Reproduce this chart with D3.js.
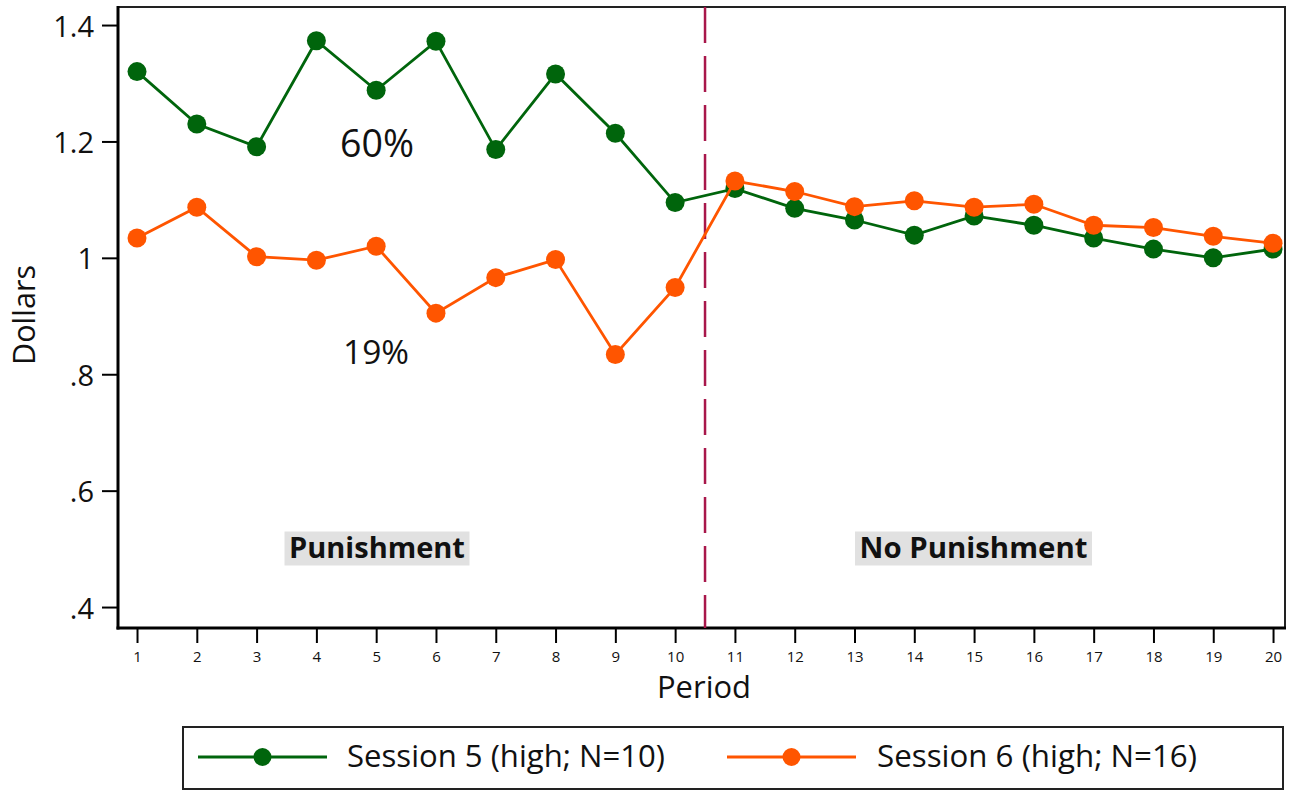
<!DOCTYPE html>
<html><head><meta charset="utf-8">
<script src="https://cdn.jsdelivr.net/npm/d3@7"></script>
<style>html,body{margin:0;padding:0;background:#fff;} svg{display:block;font-family:"Open Sans",sans-serif;}</style>
</head><body>
<svg id="c" width="1299" height="790"></svg>
<script>
const periods = [1,2,3,4,5,6,7,8,9,10,11,12,13,14,15,16,17,18,19,20];
const session5 = [1.320,1.230,1.191,1.373,1.288,1.372,1.186,1.316,1.214,1.095,1.119,1.085,1.065,1.039,1.072,1.056,1.034,1.015,1.000,1.015];
const session6 = [1.034,1.087,1.002,0.996,1.020,0.905,0.966,0.997,0.834,0.949,1.132,1.114,1.088,1.098,1.087,1.092,1.056,1.052,1.037,1.025];
const yTicks = [0.4,0.6,0.8,1.0,1.2,1.4];
const yTickLabels = [".4",".6",".8","1","1.2","1.4"];
const seriesNames = ["Session 5 (high; N=10)","Session 6 (high; N=16)"];
const regimeLabels = ["Punishment","No Punishment"];
const shareLabels = ["60%","19%"];
const breakPeriod = 10.5;

const svg = d3.select("#c");
const L=118, R=1285, T=7, B=628;
const x = d3.scaleLinear().domain([0.682,20.2]).range([L,R]);
const y = d3.scaleLinear().domain([0.364,1.431]).range([B,T]);
const green="#00650c", orange="#ff5500", dash="#a8174b";

function fitText(sel, target){
  const w = sel.node().getComputedTextLength();
  const fs = parseFloat(sel.attr("font-size"));
  sel.attr("font-size", (fs*target/w).toFixed(2));
}

// frame
svg.append("rect").attr("x",L).attr("y",T).attr("width",R-L).attr("height",B-T)
  .attr("fill","none").attr("stroke","#222").attr("stroke-width",2);
svg.append("line").attr("x1",L).attr("x2",L).attr("y1",T-1).attr("y2",B+1.5).attr("stroke","#000").attr("stroke-width",3);
svg.append("line").attr("x1",L-1.5).attr("x2",R+1).attr("y1",B).attr("y2",B).attr("stroke","#000").attr("stroke-width",3);

// y axis
const yAxis = d3.axisLeft(y).tickValues(yTicks).tickFormat((d,i)=>yTickLabels[i]).tickSize(15).tickPadding(9);
const ga = svg.append("g").attr("transform",`translate(${L-1},0)`).call(yAxis);
ga.select(".domain").remove();
ga.selectAll(".tick line").attr("stroke","#000").attr("stroke-width",2);
ga.selectAll(".tick text").attr("font-size",29).attr("fill","#111").attr("font-family","'Open Sans',sans-serif").attr("x",-23).attr("dy","0.38em");

// x axis
const xAxis = d3.axisBottom(x).tickValues(periods).tickFormat(d3.format("d")).tickSize(14).tickPadding(8);
const gx = svg.append("g").attr("transform",`translate(0,${B+1})`).call(xAxis);
gx.select(".domain").remove();
gx.selectAll(".tick line").attr("stroke","#000").attr("stroke-width",2);
gx.selectAll(".tick text").attr("font-size",15).attr("fill","#111").attr("font-family","'Open Sans',sans-serif");

// axis titles
const xt = svg.append("text").attr("x",704).attr("y",698).attr("text-anchor","middle").attr("font-size",27).attr("fill","#111").text("Period");
fitText(xt,94);
const yt = svg.append("text").attr("transform","translate(35,315) rotate(-90)").attr("text-anchor","middle").attr("font-size",25).attr("fill","#111").text("Dollars");
fitText(yt,100);

// regime boxes
const regimes = [{cx:377, w:185, tw:176},{cx:973.5, w:237, tw:228}];
regimes.forEach((r,i)=>{
  svg.append("rect").attr("x",r.cx-r.w/2).attr("y",531.5).attr("width",r.w).attr("height",34).attr("fill","#e1e1e1");
  const t = svg.append("text").attr("x",r.cx).attr("y",558).attr("text-anchor","middle").attr("font-weight","bold")
    .attr("font-size",26).attr("fill","#111").text(regimeLabels[i]);
  fitText(t, r.tw);
});

// dashed break line
svg.append("line").attr("x1",x(breakPeriod)).attr("x2",x(breakPeriod)).attr("y1",T).attr("y2",B)
  .attr("stroke",dash).attr("stroke-width",2.5).attr("stroke-dasharray","36,13");

// share labels
const s1 = svg.append("text").attr("x",377).attr("y",157).attr("text-anchor","middle").attr("font-size",38).attr("fill","#111").text(shareLabels[0]);
fitText(s1,74);
const s2 = svg.append("text").attr("x",376).attr("y",364).attr("text-anchor","middle").attr("font-size",38).attr("fill","#111").text(shareLabels[1]);
fitText(s2,66);

// series
const line = d3.line().x((d,i)=>x(periods[i])).y(d=>y(d));
[[session5,green],[session6,orange]].forEach(([data,col])=>{
  svg.append("path").datum(data).attr("d",line).attr("fill","none").attr("stroke",col).attr("stroke-width",2.8);
  svg.append("g").selectAll("circle").data(data).join("circle")
    .attr("cx",(d,i)=>x(periods[i])).attr("cy",d=>y(d)).attr("r",9.5).attr("fill",col);
});

// legend
svg.append("rect").attr("x",183).attr("y",727).attr("width",1100).attr("height",62)
  .attr("fill","#fff").attr("stroke","#222").attr("stroke-width",2);
const leg = [{x1:198,x2:327,tx:347,tw:318,col:green},{x1:727,x2:856,tx:877,tw:320,col:orange}];
leg.forEach((l,i)=>{
  svg.append("line").attr("x1",l.x1).attr("x2",l.x2).attr("y1",757).attr("y2",757).attr("stroke",l.col).attr("stroke-width",3);
  svg.append("circle").attr("cx",(l.x1+l.x2)/2).attr("cy",757).attr("r",9).attr("fill",l.col);
  const t = svg.append("text").attr("x",l.tx).attr("y",767).attr("font-size",26).attr("fill","#111").text(seriesNames[i]);
  fitText(t,l.tw);
});
</script>
</body></html>
